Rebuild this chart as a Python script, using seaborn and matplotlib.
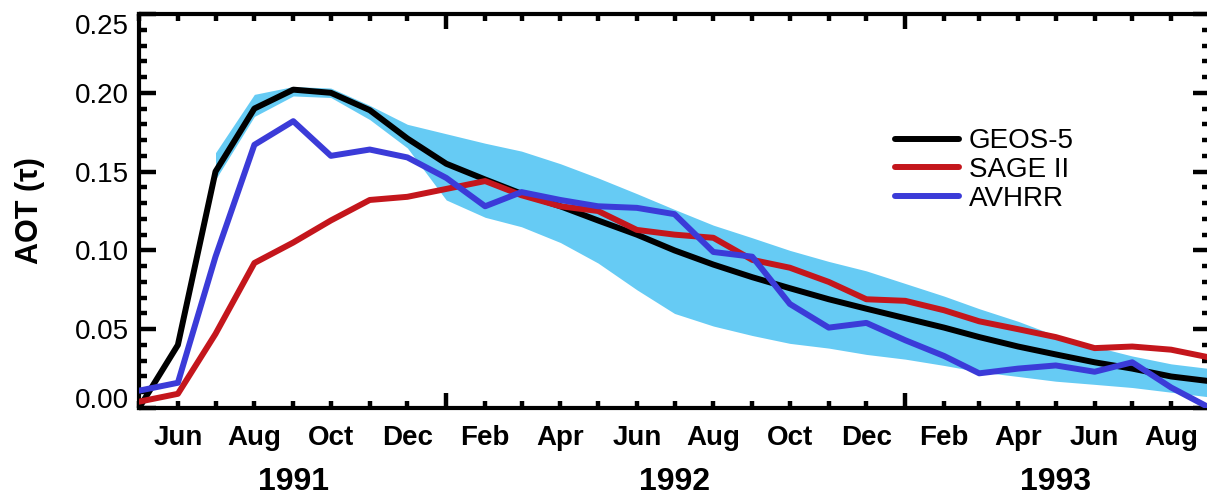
import matplotlib
matplotlib.use('Agg')
import matplotlib.pyplot as plt
import matplotlib.dates as mdates
import matplotlib.transforms as mtransforms
from matplotlib.ticker import FuncFormatter, MultipleLocator
import numpy as np
import pandas as pd
import seaborn as sns

# monthly values, May 1991 .. Sep 1993
months = pd.date_range('1991-05-01', '1993-09-01', freq='MS')

geos5 = [0.000, 0.040, 0.150, 0.190, 0.202, 0.200, 0.189, 0.171, 0.155, 0.145,
         0.136, 0.128, 0.119, 0.110, 0.100, 0.091, 0.083, 0.076, 0.069, 0.063,
         0.057, 0.051, 0.045, 0.039, 0.034, 0.029, 0.025, 0.020, 0.017]
sage2 = [0.004, 0.009, 0.047, 0.092, 0.105, 0.119, 0.132, 0.134, 0.139, 0.144,
         0.135, 0.128, 0.125, 0.113, 0.110, 0.108, 0.094, 0.089, 0.080, 0.069,
         0.068, 0.062, 0.055, 0.050, 0.045, 0.038, 0.039, 0.037, 0.032]
avhrr = [0.011, 0.016, 0.096, 0.167, 0.182, 0.160, 0.164, 0.159, 0.146, 0.128,
         0.137, 0.132, 0.128, 0.127, 0.123, 0.099, 0.096, 0.066, 0.051, 0.054,
         0.043, 0.033, 0.022, 0.025, 0.027, 0.023, 0.029, 0.013, 0.000]
# model spread (shaded)
band_hi = [np.nan, np.nan, 0.162, 0.199, 0.204, 0.203, 0.192, 0.180, 0.174, 0.168,
           0.163, 0.155, 0.146, 0.136, 0.126, 0.116, 0.108, 0.100, 0.093, 0.087,
           0.079, 0.071, 0.063, 0.055, 0.046, 0.039, 0.033, 0.028, 0.025]
band_lo = [np.nan, np.nan, 0.145, 0.185, 0.198, 0.197, 0.183, 0.165, 0.132, 0.121,
           0.115, 0.105, 0.092, 0.075, 0.060, 0.052, 0.046, 0.041, 0.038, 0.034,
           0.031, 0.027, 0.023, 0.020, 0.017, 0.015, 0.013, 0.010, 0.007]

years = ['1991', '1992', '1993']
year_pos = ['1991-09-01', '1992-07-01', '1993-05-01']
labelled = [6, 8, 10, 12, 2, 4]

sns.set_style('white')
plt.rcParams['font.family'] = ['Liberation Sans', 'DejaVu Sans']
plt.rcParams['text.color'] = 'black'
plt.rcParams['xtick.color'] = 'black'
plt.rcParams['ytick.color'] = 'black'

fig = plt.figure(figsize=(12.07, 4.97), dpi=100)
ax = fig.add_axes([139 / 1207, 89 / 497, 1071 / 1207, 394 / 497])

ax.fill_between(months, band_lo, band_hi, color='#66cbf4', lw=0, zorder=1)
sns.lineplot(x=months, y=geos5, color='black', lw=4.3, ax=ax, label='GEOS-5', zorder=3)
sns.lineplot(x=months, y=sage2, color='#c4161c', lw=4.3, ax=ax, label='SAGE II', zorder=3)
sns.lineplot(x=months, y=avhrr, color='#3b3bd8', lw=4.3, ax=ax, label='AVHRR', zorder=3)

ax.set_xlim(months[0], months[-1])
ax.set_ylim(0, 0.25)

# x ticks: long at January, short every month, labels every other month
ax.xaxis.set_major_locator(mdates.MonthLocator(bymonth=1))
ax.xaxis.set_major_formatter(FuncFormatter(lambda v, p: ''))
ax.xaxis.set_minor_locator(mdates.MonthLocator())
ax.xaxis.set_minor_formatter(FuncFormatter(
    lambda v, p: mdates.num2date(v).strftime('%b') if mdates.num2date(v).month in labelled else ''))

ax.set_yticks([0, 0.05, 0.10, 0.15, 0.20, 0.25])
ax.set_yticklabels(['0.00', '0.05', '0.10', '0.15', '0.20', '0.25'], fontsize=20)
ax.yaxis.set_minor_locator(MultipleLocator(0.01))
ylabs = ax.get_yticklabels()
ylabs[0].set_va('baseline')
ylabs[-1].set_va('top')

ax.tick_params(axis='both', which='both', direction='in', top=True, right=True,
               bottom=True, left=True, color='black', width=3.2)
ax.tick_params(axis='y', which='major', length=12, pad=7)
ax.tick_params(axis='y', which='minor', length=5.5)
ax.tick_params(axis='x', which='major', length=11)
ax.tick_params(axis='x', which='minor', length=5, pad=12, labelsize=20)
for lab in ax.get_xticklabels(minor=True):
    lab.set_fontweight('bold')

for s in ax.spines.values():
    s.set_linewidth(3)
    s.set_color('black')

trans = mtransforms.blended_transform_factory(ax.transData, ax.transAxes)
for yr, pos in zip(years, year_pos):
    ax.text(pd.Timestamp(pos), -0.188, yr, transform=trans, ha='center', va='center',
            fontsize=23, fontweight='bold')

ax.set_ylabel('')
ax.set_xlabel('')
ax.text(-0.102, 0.5, 'AOT (τ)', transform=ax.transAxes, rotation=90, ha='center',
        va='center', fontsize=22, fontweight='bold')

ax.legend(loc='upper left', bbox_to_anchor=(0.706, 0.71), frameon=False, fontsize=20,
          handlelength=2.3, handletextpad=0.35, labelspacing=0.1, borderpad=0,
          borderaxespad=0)

fig.savefig('out.png', dpi=100)
